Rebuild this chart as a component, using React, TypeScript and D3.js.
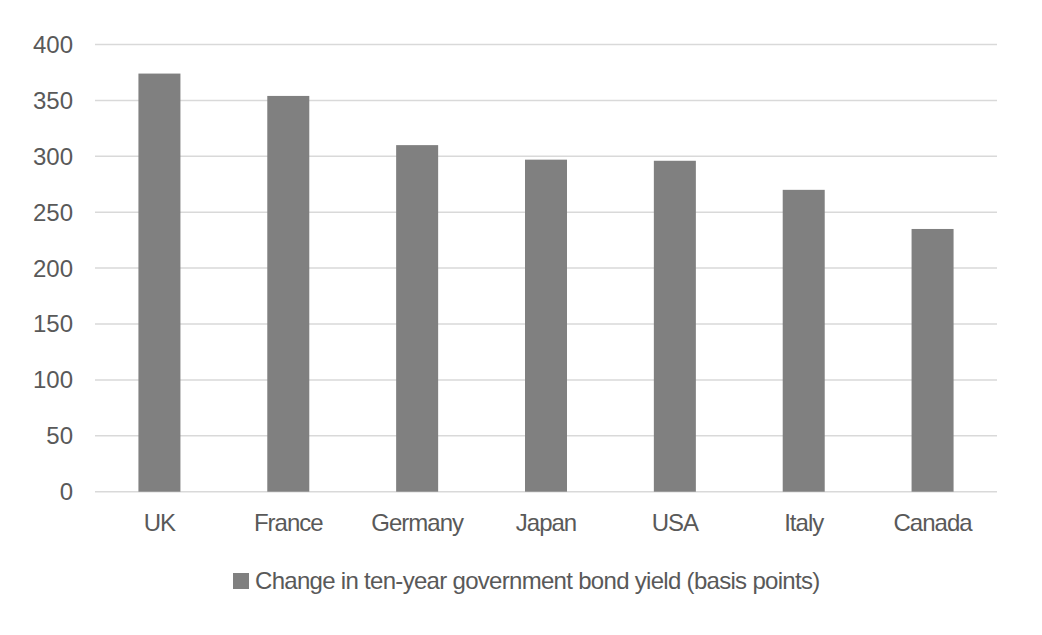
import { useRef, useEffect } from "react";
import * as d3 from "d3";

const countries = ["UK", "France", "Germany", "Japan", "USA", "Italy", "Canada"];
const yieldChange = [374, 354, 310, 297, 296, 270, 235];
const yTicks = [0, 50, 100, 150, 200, 250, 300, 350, 400];
const seriesName = "Change in ten-year government bond yield (basis points)";

export default function App() {
  const svgRef = useRef<SVGSVGElement>(null);

  useEffect(() => {
    if (!svgRef.current) return;
    const svg = d3.select(svgRef.current);
    svg.selectAll("*").remove();

    const width = 1042;
    const height = 635;
    const left = 95;
    const right = 997;
    const top = 44.5;
    const bottom = 491.7;
    const textColor = "#595959";
    const font = "'Liberation Sans', Arial, sans-serif";

    svg.attr("viewBox", `0 0 ${width} ${height}`);
    svg.append("rect").attr("width", width).attr("height", height).attr("fill", "#fff");

    const x = d3
      .scaleBand<string>()
      .domain(countries)
      .range([left, right])
      .paddingInner(0.674)
      .paddingOuter(0.337);
    const y = d3.scaleLinear().domain([0, 400]).range([bottom, top]);

    // Gridlines
    svg
      .append("g")
      .selectAll("line")
      .data(yTicks)
      .join("line")
      .attr("x1", left)
      .attr("x2", right)
      .attr("y1", (d) => y(d))
      .attr("y2", (d) => y(d))
      .attr("stroke", "#d9d9d9")
      .attr("stroke-width", 1.5);

    // Bars
    svg
      .append("g")
      .selectAll("rect")
      .data(yieldChange)
      .join("rect")
      .attr("x", (_, i) => x(countries[i])!)
      .attr("width", x.bandwidth())
      .attr("y", (d) => y(d))
      .attr("height", (d) => y(0) - y(d))
      .attr("fill", "#808080");

    // Y tick labels
    svg
      .append("g")
      .selectAll("text")
      .data(yTicks)
      .join("text")
      .attr("x", 73)
      .attr("y", (d) => y(d))
      .attr("dy", "0.35em")
      .attr("text-anchor", "end")
      .attr("fill", textColor)
      .attr("font-family", font)
      .attr("font-size", "24px")
      .text((d) => d);

    // Category labels
    svg
      .append("g")
      .selectAll("text")
      .data(countries)
      .join("text")
      .attr("x", (d) => x(d)! + x.bandwidth() / 2)
      .attr("y", 523)
      .attr("dy", "0.35em")
      .attr("text-anchor", "middle")
      .attr("fill", textColor)
      .attr("font-family", font)
      .attr("font-size", "24px")
      .attr("letter-spacing", "-1px")
      .text((d) => d);

    // Legend
    svg
      .append("rect")
      .attr("x", 233)
      .attr("y", 573)
      .attr("width", 16)
      .attr("height", 16)
      .attr("fill", "#808080");
    svg
      .append("text")
      .attr("x", 255)
      .attr("y", 581)
      .attr("dy", "0.35em")
      .attr("fill", textColor)
      .attr("font-family", font)
      .attr("font-size", "24px")
      .attr("letter-spacing", "-0.7px")
      .text(seriesName);
  }, []);

  return (
    <svg
      ref={svgRef}
      width={1042}
      height={635}
      style={{ position: "absolute", left: 0, top: 0, display: "block" }}
    />
  );
}
